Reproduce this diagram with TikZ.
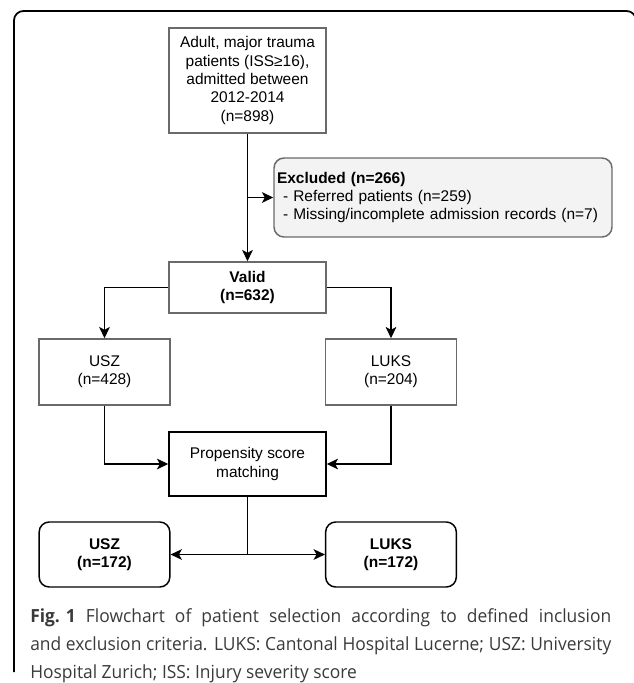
\documentclass[tikz,border=0pt]{standalone}
\usepackage{fontspec}
\setmainfont{Liberation Sans}
\newfontfamily\capfont[FakeStretch=0.96]{Open Sans}
\usetikzlibrary{arrows.meta,positioning}
\definecolor{boxgray}{HTML}{6A6A6A}
\definecolor{exclfill}{HTML}{F3F3F3}
\definecolor{capgray}{HTML}{3A3A3A}
\begin{document}
\begin{tikzpicture}[
    x=0.75pt, y=-0.75pt,
    mybox/.style={
    rectangle,
    draw=boxgray,
    line width=1.1pt,
    align=center,
    inner sep=0pt,
    minimum width=117.75pt,
    font=\fontsize{11.6}{13.7}\selectfont},
    sitebox/.style={mybox, minimum width=98pt, minimum height=49.5pt},
    finalbox/.style={sitebox, draw=black, rounded corners=7.5pt,
    minimum height=48.75pt, font=\fontsize{11.6}{13.7}\selectfont\bfseries},
    myarrow/.style={-{Stealth[length=8.5pt,width=8pt,inset=2.2pt]},line width=1.1pt},
    myline/.style={line width=1.1pt}
    ]
    \useasboundingbox (0,0) rectangle (633,683);
    \draw[line width=1.3pt, rounded corners=7pt] (14,672) -- (14,11) -- (636,11) -- (636,20);

    \node[mybox, minimum height=78.75pt] (top) at (247.5,80.5)
        {Adult, major trauma\\ patients (ISS≥16),\\ admitted between\\ 2012-2014\\ (n=898)};
    \node[mybox, fill=exclfill, rounded corners=7.5pt, align=left,
        minimum height=59.25pt, text width=249pt, inner xsep=2.25pt] (excl) at (443,197.5)
        {\textbf{Excluded (n=266)}\\
        \hspace{4.5pt}- Referred patients (n=259)\\
        \hspace{4.5pt}- Missing/incomplete admission records (n=7)};
    \node[mybox, minimum height=38.25pt, font=\fontsize{11.6}{13.7}\selectfont\bfseries] (valid) at (247.5,287.5)
        {Valid\\ (n=632)};
    \node[sitebox] (usz) at (104.5,372) {USZ\\ (n=428)};
    \node[sitebox] (luks) at (391,372) {LUKS\\ (n=204)};
    \node[mybox, draw=black, minimum height=48pt] (psm) at (247.5,464)
        {Propensity score\\ matching};
    \node[finalbox] (usz2) at (104.5,554.5) {USZ\\ (n=172)};
    \node[finalbox] (luks2) at (391,554.5) {LUKS\\ (n=172)};

    \draw[myarrow] (top) -- (valid);
    \draw[myarrow] (top.south |- excl.west) -- (excl.west);
    \draw[myarrow] (valid.west) -| (usz.north);
    \draw[myarrow] (valid.east) -| (luks.north);
    \draw[myarrow] (usz.south) |- (psm.west);
    \draw[myarrow] (luks.south) |- (psm.east);
    \coordinate (split) at (psm.south |- usz2.east);
    \draw[myline] (psm.south) -- (split);
    \draw[myarrow] (split) -- (usz2.east);
    \draw[myarrow] (split) -- (luks2.west);

    \node[anchor=north west, inner sep=0pt, align=justify, text width=435.75pt, text=capgray,
        font=\capfont\fontsize{13.6}{21}\selectfont] (caption) at (30,608)
        {\mbox{\textbf{Fig. 1}} Flowchart of patient selection according to defined inclusion\linebreak
        and exclusion criteria. LUKS: Cantonal Hospital Lucerne; USZ: University\linebreak
        Hospital Zurich; ISS: Injury severity score};
\end{tikzpicture}
\end{document}
